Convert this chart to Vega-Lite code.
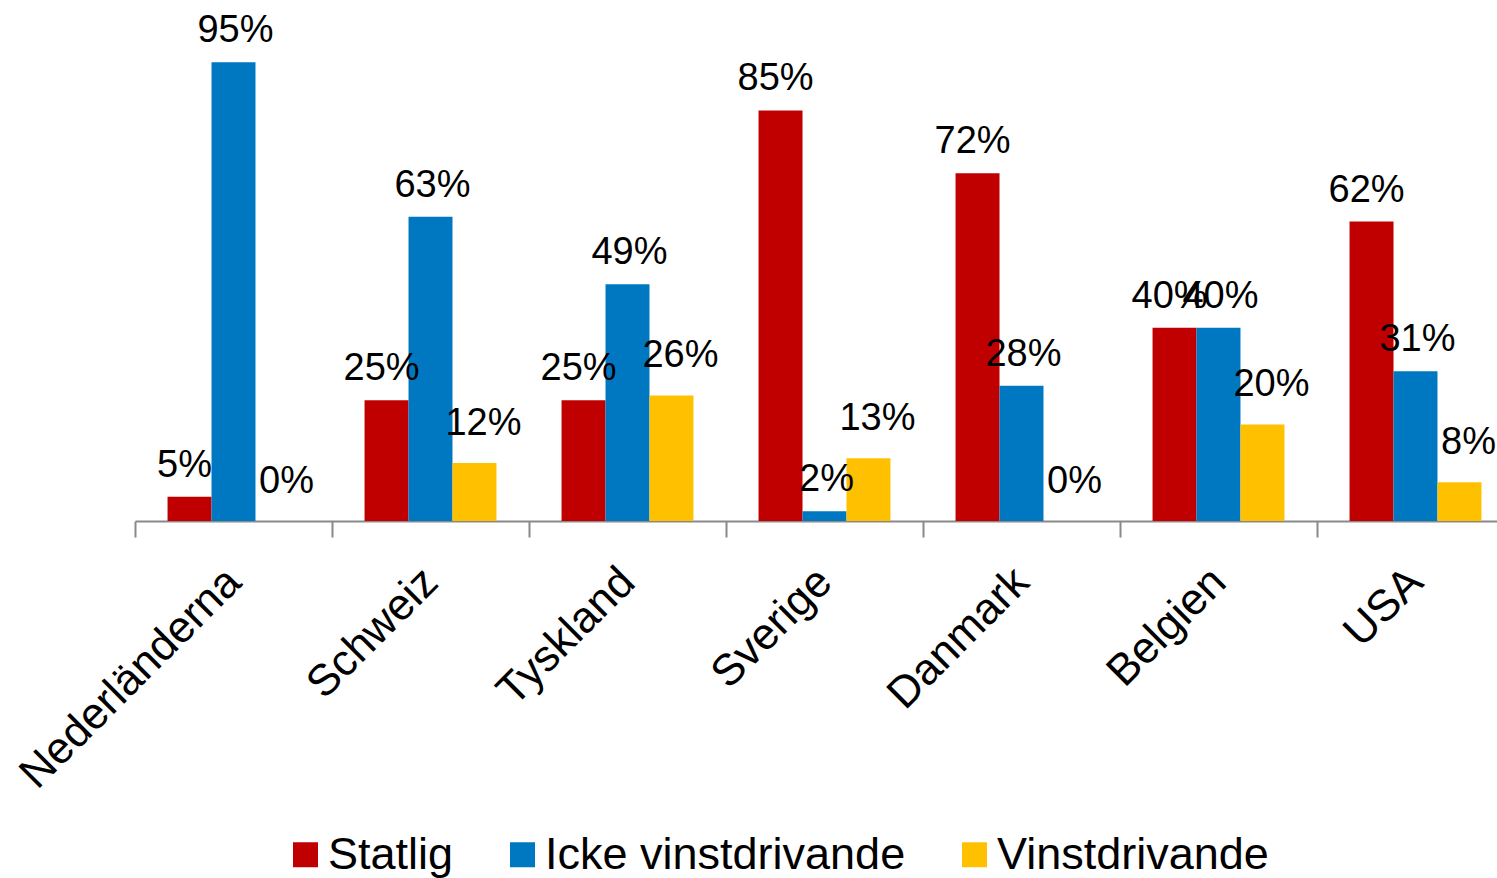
{
  "$schema": "https://vega.github.io/schema/vega-lite/v6.json",
  "width": 1362,
  "height": 483,
  "autosize": {"type": "none"},
  "padding": {"left": 135, "top": 38, "right": 0, "bottom": 357},
  "background": "white",
  "config": {"view": {"stroke": null}, "font": "Liberation Sans"},
  "data": {
    "values": [
      {"land": "Nederländerna", "typ": "Statlig", "andel": 0.05},
      {"land": "Nederländerna", "typ": "Icke vinstdrivande", "andel": 0.95},
      {"land": "Nederländerna", "typ": "Vinstdrivande", "andel": 0.0},
      {"land": "Schweiz", "typ": "Statlig", "andel": 0.25},
      {"land": "Schweiz", "typ": "Icke vinstdrivande", "andel": 0.63},
      {"land": "Schweiz", "typ": "Vinstdrivande", "andel": 0.12},
      {"land": "Tyskland", "typ": "Statlig", "andel": 0.25},
      {"land": "Tyskland", "typ": "Icke vinstdrivande", "andel": 0.49},
      {"land": "Tyskland", "typ": "Vinstdrivande", "andel": 0.26},
      {"land": "Sverige", "typ": "Statlig", "andel": 0.85},
      {"land": "Sverige", "typ": "Icke vinstdrivande", "andel": 0.02},
      {"land": "Sverige", "typ": "Vinstdrivande", "andel": 0.13},
      {"land": "Danmark", "typ": "Statlig", "andel": 0.72},
      {"land": "Danmark", "typ": "Icke vinstdrivande", "andel": 0.28},
      {"land": "Danmark", "typ": "Vinstdrivande", "andel": 0.0},
      {"land": "Belgien", "typ": "Statlig", "andel": 0.40},
      {"land": "Belgien", "typ": "Icke vinstdrivande", "andel": 0.40},
      {"land": "Belgien", "typ": "Vinstdrivande", "andel": 0.20},
      {"land": "USA", "typ": "Statlig", "andel": 0.62},
      {"land": "USA", "typ": "Icke vinstdrivande", "andel": 0.31},
      {"land": "USA", "typ": "Vinstdrivande", "andel": 0.08}
    ]
  },
  "encoding": {
    "x": {
      "field": "land",
      "type": "nominal",
      "sort": ["Nederländerna", "Schweiz", "Tyskland", "Sverige", "Danmark", "Belgien", "USA"],
      "scale": {"range": [0, 1379], "paddingInner": 0, "paddingOuter": 0},
      "axis": {
        "title": null,
        "domainColor": "#898989",
        "domainWidth": 2,
        "tickColor": "#898989",
        "tickWidth": 2,
        "tickSize": 16,
        "tickBand": "extent",
        "labelAngle": -45,
        "labelAlign": "right",
        "labelBaseline": "middle",
        "labelFontSize": 44,
        "labelColor": "black",
        "labelFont": "Liberation Sans",
        "labelPadding": 38,
        "labelLimit": 0
      }
    },
    "xOffset": {
      "field": "typ",
      "sort": ["Statlig", "Icke vinstdrivande", "Vinstdrivande"],
      "scale": {"paddingInner": 0, "paddingOuter": 0.74}
    },
    "y": {
      "field": "andel",
      "type": "quantitative",
      "scale": {"domain": [0, 1]},
      "axis": null
    }
  },
  "layer": [
    {
      "mark": {"type": "bar"},
      "encoding": {
        "color": {
          "field": "typ",
          "type": "nominal",
          "sort": ["Statlig", "Icke vinstdrivande", "Vinstdrivande"],
          "scale": {
            "domain": ["Statlig", "Icke vinstdrivande", "Vinstdrivande"],
            "range": ["#C00000", "#0077C1", "#FFC000"]
          },
          "legend": {
            "title": null,
            "orient": "none",
            "legendX": 148,
            "legendY": 794,
            "direction": "horizontal",
            "symbolType": "square",
            "symbolSize": 625,
            "symbolStrokeWidth": 0,
            "labelFontSize": 45,
            "labelFont": "Liberation Sans",
            "labelColor": "black",
            "labelOffset": 0,
            "columnPadding": 46,
            "labelLimit": 0
          }
        }
      }
    },
    {
      "transform": [{"filter": "datum.typ === 'Statlig'"}],
      "mark": {"type": "text", "baseline": "alphabetic", "dx": -5, "dy": -20, "fontSize": 38, "color": "black", "font": "Liberation Sans"},
      "encoding": {
        "text": {"field": "andel", "type": "quantitative", "format": ".0%"}
      }
    },
    {
      "transform": [{"filter": "datum.typ === 'Icke vinstdrivande'"}],
      "mark": {"type": "text", "baseline": "alphabetic", "dx": 2, "dy": -20, "fontSize": 38, "color": "black", "font": "Liberation Sans"},
      "encoding": {
        "text": {"field": "andel", "type": "quantitative", "format": ".0%"}
      }
    },
    {
      "transform": [{"filter": "datum.typ === 'Vinstdrivande'"}],
      "mark": {"type": "text", "baseline": "alphabetic", "dx": 9, "dy": -28, "fontSize": 38, "color": "black", "font": "Liberation Sans"},
      "encoding": {
        "text": {"field": "andel", "type": "quantitative", "format": ".0%"}
      }
    }
  ]
}
